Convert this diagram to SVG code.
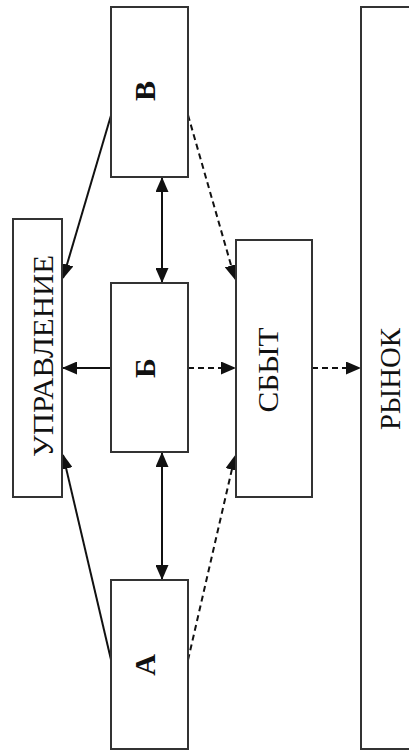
<svg xmlns="http://www.w3.org/2000/svg" width="409" height="755" viewBox="0 0 409 755">
<style>
.box{fill:#fff;stroke:#333;stroke-width:2}
.ln{stroke:#111;stroke-width:2;fill:none}
.dash{stroke-dasharray:6,4}
.t{font-family:"Liberation Serif","Times New Roman",serif;fill:#111;text-anchor:middle}
.big{font-size:29px}
.let{font-size:30px;font-weight:bold}
</style>
<defs>
<marker id="ah" markerUnits="userSpaceOnUse" markerWidth="15" markerHeight="13" refX="14" refY="6.5" orient="auto-start-reverse" viewBox="0 0 15 13">
<path d="M0,0 L15,6.5 L0,13 Z" fill="#111"/>
</marker>
</defs>
<rect width="409" height="755" fill="#fff"/>
<g id="connectors">
<line class="ln" x1="112" y1="112" x2="63" y2="278" marker-end="url(#ah)"/>
<line class="ln dash" x1="188" y1="115" x2="235" y2="279" marker-end="url(#ah)"/>
<line class="ln" x1="162" y1="178" x2="162" y2="282" marker-start="url(#ah)" marker-end="url(#ah)"/>
<line class="ln" x1="111" y1="368" x2="63" y2="368" marker-end="url(#ah)"/>
<line class="ln dash" x1="188" y1="368" x2="235" y2="368" marker-end="url(#ah)"/>
<line class="ln dash" x1="312" y1="368" x2="360" y2="368" marker-end="url(#ah)"/>
<line class="ln" x1="162" y1="453" x2="162" y2="579" marker-start="url(#ah)" marker-end="url(#ah)"/>
<line class="ln" x1="112" y1="664" x2="63" y2="455" marker-end="url(#ah)"/>
<line class="ln dash" x1="188" y1="660" x2="235" y2="456" marker-end="url(#ah)"/>
</g>
<g id="node-v">
<rect class="box" x="111" y="7" width="77" height="170"/>
<text class="t let" transform="translate(155,91) rotate(-90)">В</text>
</g>
<g id="node-upravlenie">
<rect class="box" x="13" y="219" width="49" height="278"/>
<text class="t big" transform="translate(53,356) rotate(-90)" textLength="202" lengthAdjust="spacingAndGlyphs">УПРАВЛЕНИЕ</text>
</g>
<g id="node-b">
<rect class="box" x="111" y="283" width="77" height="169"/>
<text class="t let" transform="translate(155,368) rotate(-90)">Б</text>
</g>
<g id="node-sbyt">
<rect class="box" x="236" y="240" width="76" height="257"/>
<text class="t big" transform="translate(278,370) rotate(-90)" textLength="85" lengthAdjust="spacingAndGlyphs">СБЫТ</text>
</g>
<g id="node-rynok">
<rect class="box" x="361" y="7" width="70" height="742"/>
<text class="t big" transform="translate(400,379) rotate(-90)" textLength="102" lengthAdjust="spacingAndGlyphs">РЫНОК</text>
</g>
<g id="node-a">
<rect class="box" x="111" y="580" width="77" height="169"/>
<text class="t let" transform="translate(155,665) rotate(-90)">А</text>
</g>
</svg>
